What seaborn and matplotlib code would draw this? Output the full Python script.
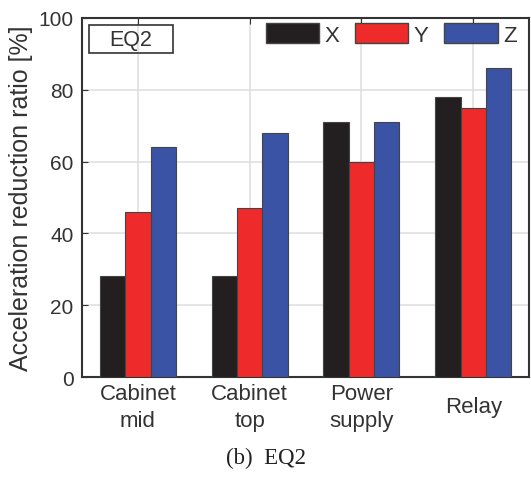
import matplotlib
matplotlib.use("Agg")
import matplotlib.pyplot as plt
import matplotlib.transforms as mtransforms
import seaborn as sns
import pandas as pd
from matplotlib.patches import Patch, Rectangle

categories = ["Cabinet\nmid", "Cabinet\ntop", "Power\nsupply", "Relay"]
x_vals = [28, 28, 71, 78]
y_vals = [46, 47, 60, 75]
z_vals = [64, 68, 71, 86]
series = ["X", "Y", "Z"]
colors = ["#231f20", "#ee2a2a", "#3a53a4"]
yticks = [0, 20, 40, 60, 80, 100]

df = pd.DataFrame({
    "cat": categories * 3,
    "dir": ["X"] * 4 + ["Y"] * 4 + ["Z"] * 4,
    "val": x_vals + y_vals + z_vals,
})

sns.set_style("white")
plt.rcParams["font.family"] = ["Liberation Sans", "DejaVu Sans"]

fig = plt.figure(figsize=(5.31, 4.81), dpi=100)
ax = fig.add_axes([0.1544, 0.2141, 0.842, 0.7464])

sns.barplot(data=df, x="cat", y="val", hue="dir", palette=colors, saturation=1,
            width=0.68, edgecolor="#444444", linewidth=0.8, ax=ax,
            legend=False, zorder=3)

ax.set_ylim(0, 100)
ax.set_xlim(-0.5, 3.5)
ax.set_yticks(yticks)
ax.set_yticklabels([str(t) for t in yticks], fontsize=15, color="#333333")
ax.set_xticks(range(4))
ax.set_xticklabels(categories, fontsize=16, color="#333333", linespacing=1.4)
ax.set_xlabel("")
ax.set_ylabel("Acceleration reduction ratio [%]", fontsize=18, color="#333333", labelpad=4)
ax.grid(True, color="#e0e0e0", linewidth=1.2, zorder=0)
ax.set_axisbelow(True)
ax.tick_params(direction="in", length=4, color="#333333", top=True, bottom=True, left=True, right=False)
ax.tick_params(axis="x", pad=4)
ax.tick_params(axis="y", pad=6)
for s in ax.spines.values():
    s.set_color("#333333")
    s.set_linewidth(1.5)

# single-line label sits mid-height of the two-line labels
for lbl in ax.get_xticklabels():
    if "\n" not in lbl.get_text():
        lbl.set_transform(lbl.get_transform() +
                          mtransforms.ScaledTranslation(0, -0.13, fig.dpi_scale_trans))

handles = [Patch(facecolor=c, edgecolor="#444444", label=l) for c, l in zip(colors, series)]
leg = ax.legend(handles=handles, loc="upper right", ncol=3, frameon=False,
                fontsize=16, handlelength=2.4, handleheight=1.0,
                handletextpad=0.25, columnspacing=0.7,
                bbox_to_anchor=(1.0, 1.02), borderaxespad=0.15)
for t in leg.get_texts():
    t.set_color("#333333")

ax.add_patch(Rectangle((0.016, 0.902), 0.188, 0.078, transform=ax.transAxes,
                       facecolor="none", edgecolor="#333333", linewidth=1.2, zorder=5))
ax.text(0.11, 0.941, "EQ2", transform=ax.transAxes, fontsize=15.5, color="#333333",
        va="center", ha="center", zorder=6)
fig.text(0.5, 0.047, "(b)  EQ2", fontsize=16.5, family="Liberation Serif", ha="center", va="center", color="#222222")

fig.savefig("out.png", dpi=100)
